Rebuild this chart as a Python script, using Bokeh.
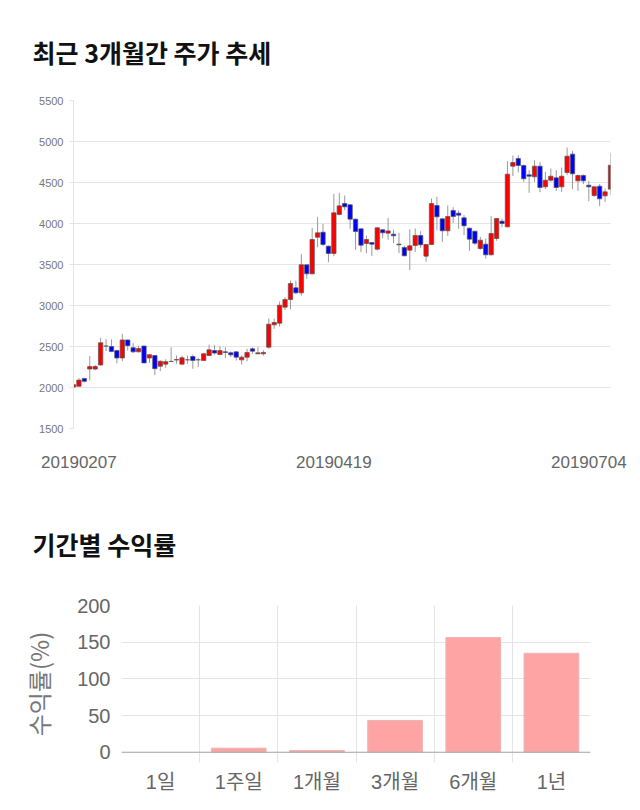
from bokeh.plotting import figure
from bokeh.models import ColumnDataSource, Range1d, FixedTicker, Span
from bokeh.layouts import column
from bokeh.embed import file_html
from bokeh.resources import INLINE

# ---------------- data: 3-month daily candles ----------------
open_ = [2005, 2015, 2110, 2225, 2225, 2275, 2505, 2500, 2450, 2360,
         2580, 2485, 2435, 2505, 2360, 2390, 2260, 2285, 2318, 2335,
         2285, 2338, 2378, 2338, 2330, 2390, 2451, 2402, 2435, 2423,
         2435, 2337, 2370, 2472, 2411, 2411, 2492, 2764, 2785, 2980,
         3073, 3215, 3154, 3496, 3386, 3833, 3894, 3724, 3634, 4110,
         4244, 4228, 4053, 3935, 3756, 3768, 3687, 3923, 3882, 3870,
         3748, 3707, 3675, 3732, 3854, 3602, 3744, 4220, 4057, 3911,
         4159, 4126, 4069, 3943, 3906, 3695, 3748, 3618, 3817, 4028,
         3959, 4699, 4793, 4707, 4593, 4569, 4699, 4447, 4528, 4557,
         4447, 4622, 4846, 4520, 4585, 4467, 4341, 4455, 4337, 4419]
high = [2060, 2115, 2115, 2385, 2275, 2605, 2590, 2585, 2460, 2655,
        2585, 2540, 2510, 2510, 2405, 2395, 2330, 2345, 2490, 2390,
        2390, 2390, 2403, 2362, 2423, 2524, 2516, 2504, 2490, 2440,
        2440, 2390, 2472, 2490, 2495, 2455, 2841, 2841, 3049, 3102,
        3305, 3305, 3626, 3500, 3947, 4081, 3996, 3730, 4362, 4374,
        4341, 4235, 4060, 3940, 3854, 3775, 3955, 3935, 4069, 3923,
        3886, 3728, 3931, 3939, 3906, 3750, 4305, 4325, 4060, 4220,
        4199, 4159, 4102, 3950, 3910, 3837, 3817, 4089, 4065, 4061,
        4760, 4828, 4833, 4720, 4650, 4772, 4748, 4630, 4671, 4650,
        4683, 4927, 4886, 4598, 4600, 4520, 4455, 4480, 4427, 4862]
low = [1980, 2010, 2060, 2085, 2210, 2265, 2445, 2430, 2295, 2320,
       2450, 2420, 2430, 2295, 2300, 2150, 2200, 2240, 2310, 2290,
       2275, 2290, 2228, 2248, 2325, 2385, 2403, 2395, 2360, 2370,
       2329, 2280, 2321, 2410, 2405, 2390, 2472, 2715, 2744, 2947,
       2955, 3140, 3122, 3325, 3380, 3711, 3724, 3528, 3602, 4100,
       4163, 3935, 3679, 3650, 3638, 3602, 3670, 3820, 3801, 3760,
       3638, 3600, 3431, 3654, 3700, 3533, 3740, 3919, 3776, 3850,
       4008, 3935, 3858, 3667, 3736, 3680, 3573, 3610, 3790, 3955,
       3955, 4578, 4622, 4508, 4374, 4508, 4382, 4420, 4510, 4398,
       4386, 4589, 4419, 4398, 4480, 4272, 4325, 4211, 4264, 4346]
close = [2035, 2090, 2075, 2255, 2255, 2545, 2505, 2440, 2360, 2580,
         2510, 2435, 2475, 2300, 2400, 2230, 2320, 2315, 2318, 2340,
         2362, 2338, 2330, 2338, 2411, 2459, 2420, 2451, 2428, 2398,
         2370, 2370, 2427, 2443, 2423, 2427, 2772, 2793, 3004, 3073,
         3268, 3154, 3496, 3386, 3805, 3886, 3744, 3634, 4130, 4215,
         4203, 4053, 3902, 3736, 3805, 3748, 3947, 3886, 3910, 3850,
         3740, 3606, 3728, 3854, 3740, 3744, 4244, 4081, 3911, 4085,
         4085, 4102, 3972, 3809, 3760, 3797, 3618, 3878, 4061, 4000,
         4602, 4744, 4707, 4545, 4577, 4699, 4439, 4528, 4577, 4439,
         4577, 4821, 4606, 4585, 4520, 4447, 4447, 4301, 4386, 4711]
date_labels = ["20190207", "20190419", "20190704"]
date_label_idx = [1, 48, 95]
price_ticks = [1500, 2000, 2500, 3000, 3500, 4000, 4500, 5000, 5500]

# ---------------- data: returns by period ----------------
periods = ["1일", "1주일", "1개월", "3개월", "6개월", "1년"]
returns = [0.0, 5.5, 2.3, 43.3, 156.3, 134.9]
return_ticks = [0, 50, 100, 150, 200]

KR = "Noto Sans CJK KR"
NUM = "Liberation Sans, Noto Sans CJK KR"
GRID = "#e4e4e4"

# ---------------- chart 1: candlesticks ----------------
n = len(close)
idx = list(range(n))
src = ColumnDataSource(dict(
    x=idx, o=open_, h=high, l=low, c=close,
    top=[max(a, b) for a, b in zip(open_, close)],
    bot=[min(a, b) for a, b in zip(open_, close)],
    col=["#ff0000" if c >= o else "#0000ff" for o, c in zip(open_, close)],
))

p1 = figure(width=640, height=480, output_backend="svg", toolbar_location=None,
            x_range=Range1d(0, n - 1), y_range=Range1d(1500, 5500),
            min_border_left=73, min_border_right=30,
            min_border_top=100, min_border_bottom=52, frame_align=False)
p1.outline_line_color = None
p1.title.text = "최근 3개월간 주가 추세"
p1.title.text_font = KR
p1.title.text_font_size = "25px"
p1.title.text_font_style = "bold"
p1.title.text_color = "#111111"
p1.title.offset = -41
p1.title.standoff = 61

p1.segment(x0="x", y0="l", x1="x", y1="h", source=src, line_color="#999999", line_width=1)
p1.vbar(x="x", top="top", bottom="bot", width=0.8, source=src,
        fill_color="col", line_color="#555555", line_width=0.7)

p1.yaxis.ticker = FixedTicker(ticks=price_ticks)
p1.yaxis.axis_line_color = GRID
p1.yaxis.major_tick_line_color = GRID
p1.yaxis.major_tick_in = 0
p1.yaxis.major_tick_out = 4
p1.yaxis.minor_tick_line_color = None
p1.yaxis.major_label_standoff = 6
p1.yaxis.major_label_text_font = NUM
p1.yaxis.major_label_text_font_size = "11px"
p1.yaxis.major_label_text_color = "#777777"

p1.xaxis.ticker = FixedTicker(ticks=date_label_idx)
p1.xaxis.major_label_overrides = {i: s for i, s in zip(date_label_idx, date_labels)}
p1.xaxis.axis_line_color = None
p1.xaxis.major_tick_line_color = None
p1.xaxis.minor_tick_line_color = None
p1.xaxis.major_label_standoff = 21
p1.xaxis.major_label_text_font = NUM
p1.xaxis.major_label_text_font_size = "17px"
p1.xaxis.major_label_text_color = "#666666"

p1.xgrid.grid_line_color = None
p1.ygrid.grid_line_color = GRID
p1.ygrid.ticker = FixedTicker(ticks=price_ticks)

# ---------------- chart 2: returns bar chart ----------------
p2 = figure(width=640, height=330, output_backend="svg", toolbar_location=None,
            x_range=Range1d(0, len(periods)), y_range=Range1d(-14, 200),
            min_border_left=121, min_border_right=50,
            min_border_top=125, min_border_bottom=48, frame_align=False)
p2.outline_line_color = None
p2.title.text = "기간별 수익률"
p2.title.text_font = KR
p2.title.text_font_size = "25px"
p2.title.text_font_style = "bold"
p2.title.text_color = "#111111"
p2.title.offset = -89
p2.title.standoff = 87

centers = [i + 0.5 for i in range(len(periods))]
bar_lines = ["#eab4b4" if r != 0 else None for r in returns]
p2.vbar(x=centers, top=returns, bottom=0, width=0.7,
        fill_color="#ffa4a4", line_color=bar_lines, line_width=1)
p2.add_layout(Span(location=0, dimension="width", line_color="#a8a8a8", line_width=1))

p2.xgrid.ticker = FixedTicker(ticks=list(range(len(periods) + 1)))
p2.xgrid.grid_line_color = GRID
p2.ygrid.ticker = FixedTicker(ticks=return_ticks)
p2.ygrid.grid_line_color = GRID

p2.yaxis.ticker = FixedTicker(ticks=return_ticks)
p2.yaxis.axis_line_color = None
p2.yaxis.major_tick_line_color = None
p2.yaxis.minor_tick_line_color = None
p2.yaxis.major_label_standoff = 5
p2.yaxis.major_label_text_font = NUM
p2.yaxis.major_label_text_font_size = "20px"
p2.yaxis.major_label_text_color = "#666666"
p2.yaxis.axis_label = "수익률(%)"
p2.yaxis.axis_label_text_font = KR
p2.yaxis.axis_label_text_font_size = "24px"
p2.yaxis.axis_label_text_font_style = "normal"
p2.yaxis.axis_label_text_color = "#777777"
p2.yaxis.axis_label_standoff = 18

p2.xaxis.ticker = FixedTicker(ticks=centers)
p2.xaxis.major_label_overrides = {c: s for c, s in zip(centers, periods)}
p2.xaxis.axis_line_color = None
p2.xaxis.major_tick_line_color = None
p2.xaxis.minor_tick_line_color = None
p2.xaxis.major_label_standoff = 2
p2.xaxis.major_label_text_font = NUM
p2.xaxis.major_label_text_font_size = "20px"
p2.xaxis.major_label_text_color = "#666666"

layout = column(p1, p2, spacing=0)
open("out.html", "w").write(file_html(layout, INLINE))
